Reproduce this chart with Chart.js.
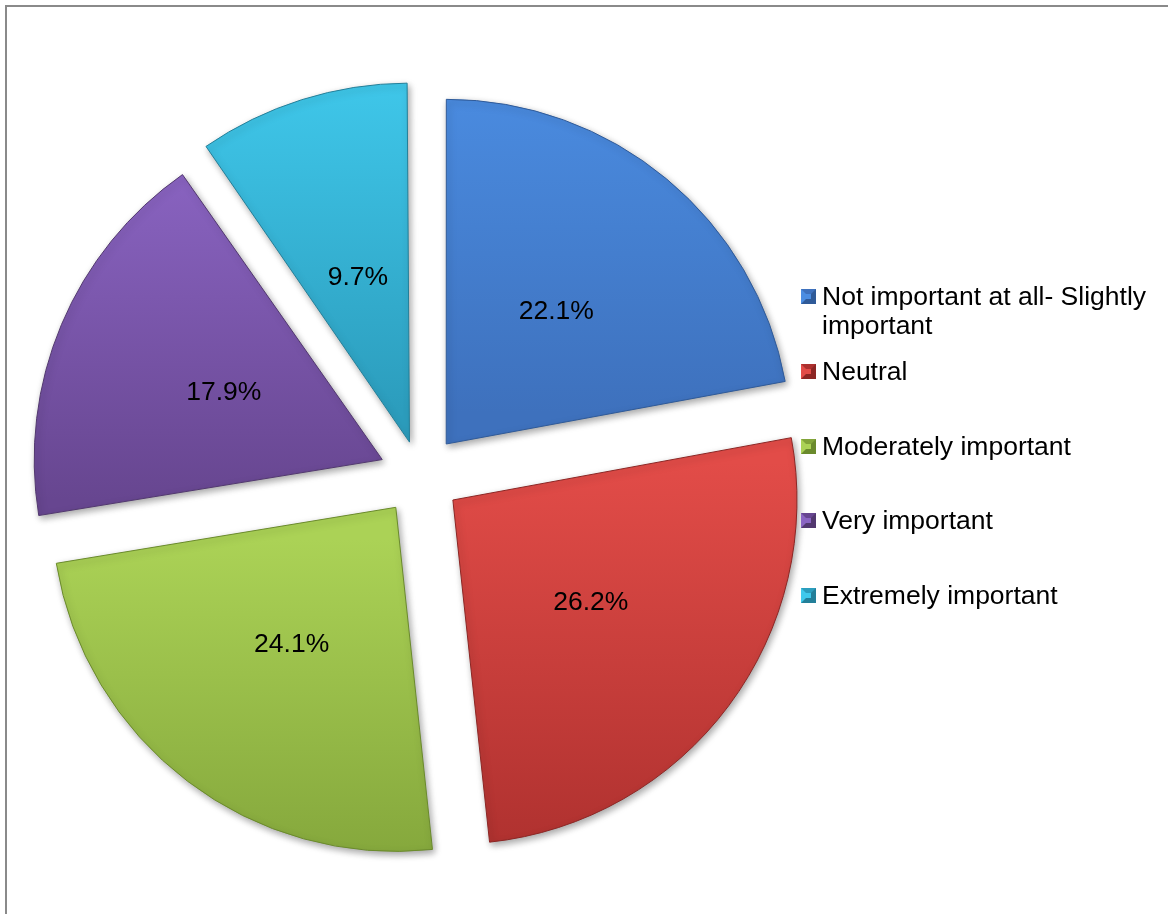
<!DOCTYPE html>
<html>
<head>
<meta charset="utf-8">
<script src="https://cdn.jsdelivr.net/npm/chart.js@4.4.1/dist/chart.umd.min.js"></script>
<style>
    html, body { margin: 0; padding: 0; background: #fff; overflow: hidden; }
    body { width: 1168px; height: 914px; position: relative; font-family: "Liberation Sans", Arial, sans-serif; }
    .frame {
        position: absolute; left: 5px; top: 5px; width: 1300px; height: 1000px;
        border-top: 2px solid #8a8a8a; border-left: 2px solid #8a8a8a;
    }
    #wrap { position: absolute; left: 0; top: 0; width: 1168px; height: 914px; }
    #legend {
        position: absolute; left: 822px; top: 282px; width: 340px;
        font-size: 26.5px; line-height: 29px; color: #000;
    }
    .item { position: relative; }
    .item + .item { margin-top: 45.5px; }
    .item:nth-child(2) { margin-top: 17px; }
    .mark {
        position: absolute; left: -21px; top: 7px; width: 5px; height: 5px;
        border-style: solid; border-width: 5px;
    }
</style>
</head>
<body>
<div class="frame"></div>
<div id="wrap"><canvas id="pie" width="1168" height="914"></canvas></div>
<div id="legend"></div>

<script>
// --- data ---
const labels = [
    'Not important at all- Slightly important',
    'Neutral',
    'Moderately important',
    'Very important',
    'Extremely important'
];
const values = [22.1, 26.2, 24.1, 17.9, 9.7];

// --- styles ---
const sliceLight = ['#4b8de2', '#e24c48', '#abd256', '#8a64c2', '#40c9ec'];
const sliceDark  = ['#3e71bd', '#ad302e', '#82a43a', '#674690', '#2c9dbd'];
const sliceEdge  = ['#2f5a98', '#8c2624', '#6a8a2c', '#52386f', '#237f99'];
const explode = [164, 164, 160, 164, 140]; // chart.js moves an arc by offset/4
const pieRadius = 344;

// vertical gradient across the extent of each exploded slice
function sliceFill(context) {
    const i = context.dataIndex;
    const chart = context.chart;
    const area = chart.chartArea;
    if (!area) return sliceLight[i];

    const total = values.reduce((a, b) => a + b, 0);
    const before = values.slice(0, i).reduce((a, b) => a + b, 0);
    const a0 = -Math.PI / 2 + before / total * 2 * Math.PI;
    const a1 = a0 + values[i] / total * 2 * Math.PI;
    const mid = (a0 + a1) / 2;
    const shift = explode[i] / 4;
    const oy = (area.top + area.bottom) / 2 + Math.sin(mid) * shift;

    let top = oy, bottom = oy;
    for (let k = 0; k <= 24; k++) {
        const y = oy + Math.sin(a0 + (a1 - a0) * k / 24) * pieRadius;
        top = Math.min(top, y);
        bottom = Math.max(bottom, y);
    }
    const g = chart.ctx.createLinearGradient(0, top, 0, bottom);
    g.addColorStop(0, sliceLight[i]);
    g.addColorStop(1, sliceDark[i]);
    return g;
}

// soft drop shadow under the slices
const shadowPlugin = {
    id: 'sliceShadow',
    beforeDatasetsDraw(chart) {
        const ctx = chart.ctx;
        ctx.save();
        ctx.shadowColor = 'rgba(0, 0, 0, 0.35)';
        ctx.shadowBlur = 7;
        ctx.shadowOffsetX = 2;
        ctx.shadowOffsetY = 3;
    },
    afterDatasetsDraw(chart) {
        chart.ctx.restore();
    }
};

// percentage labels halfway out along each slice
const valueLabels = {
    id: 'valueLabels',
    afterDraw(chart) {
        const ctx = chart.ctx;
        const meta = chart.getDatasetMeta(0);
        ctx.save();
        ctx.font = '26.5px "Liberation Sans", Arial, sans-serif';
        ctx.fillStyle = '#000';
        ctx.textAlign = 'center';
        ctx.textBaseline = 'middle';
        meta.data.forEach((arc, i) => {
            const mid = (arc.startAngle + arc.endAngle) / 2;
            const dist = (arc.options.offset || 0) / 4 + arc.outerRadius / 2;
            const x = arc.x + Math.cos(mid) * dist;
            const y = arc.y + Math.sin(mid) * dist;
            ctx.fillText(values[i].toFixed(1) + '%', x, y);
        });
        ctx.restore();
    }
};

new Chart(document.getElementById('pie'), {
    type: 'pie',
    data: {
        labels: labels,
        datasets: [{
            data: values,
            backgroundColor: sliceFill,
            borderColor: sliceEdge,
            borderWidth: 1,
            offset: explode,
            hoverOffset: 0
        }]
    },
    options: {
        responsive: false,
        animation: false,
        radius: pieRadius,
        layout: { padding: { left: 0, right: 328, top: 37, bottom: 0 } },
        plugins: {
            legend: { display: false },
            tooltip: { enabled: false }
        },
        events: []
    },
    plugins: [shadowPlugin, valueLabels]
});

// --- legend (html, wraps long labels) ---
const legend = document.getElementById('legend');
labels.forEach((text, i) => {
    const item = document.createElement('div');
    item.className = 'item';
    const mark = document.createElement('span');
    mark.className = 'mark';
    mark.style.background = sliceLight[i];
    mark.style.borderTopColor = sliceDark[i];
    mark.style.borderLeftColor = sliceLight[i];
    mark.style.borderRightColor = sliceEdge[i];
    mark.style.borderBottomColor = sliceEdge[i];
    item.appendChild(mark);
    item.appendChild(document.createTextNode(text));
    legend.appendChild(item);
});
</script>
</body>
</html>
